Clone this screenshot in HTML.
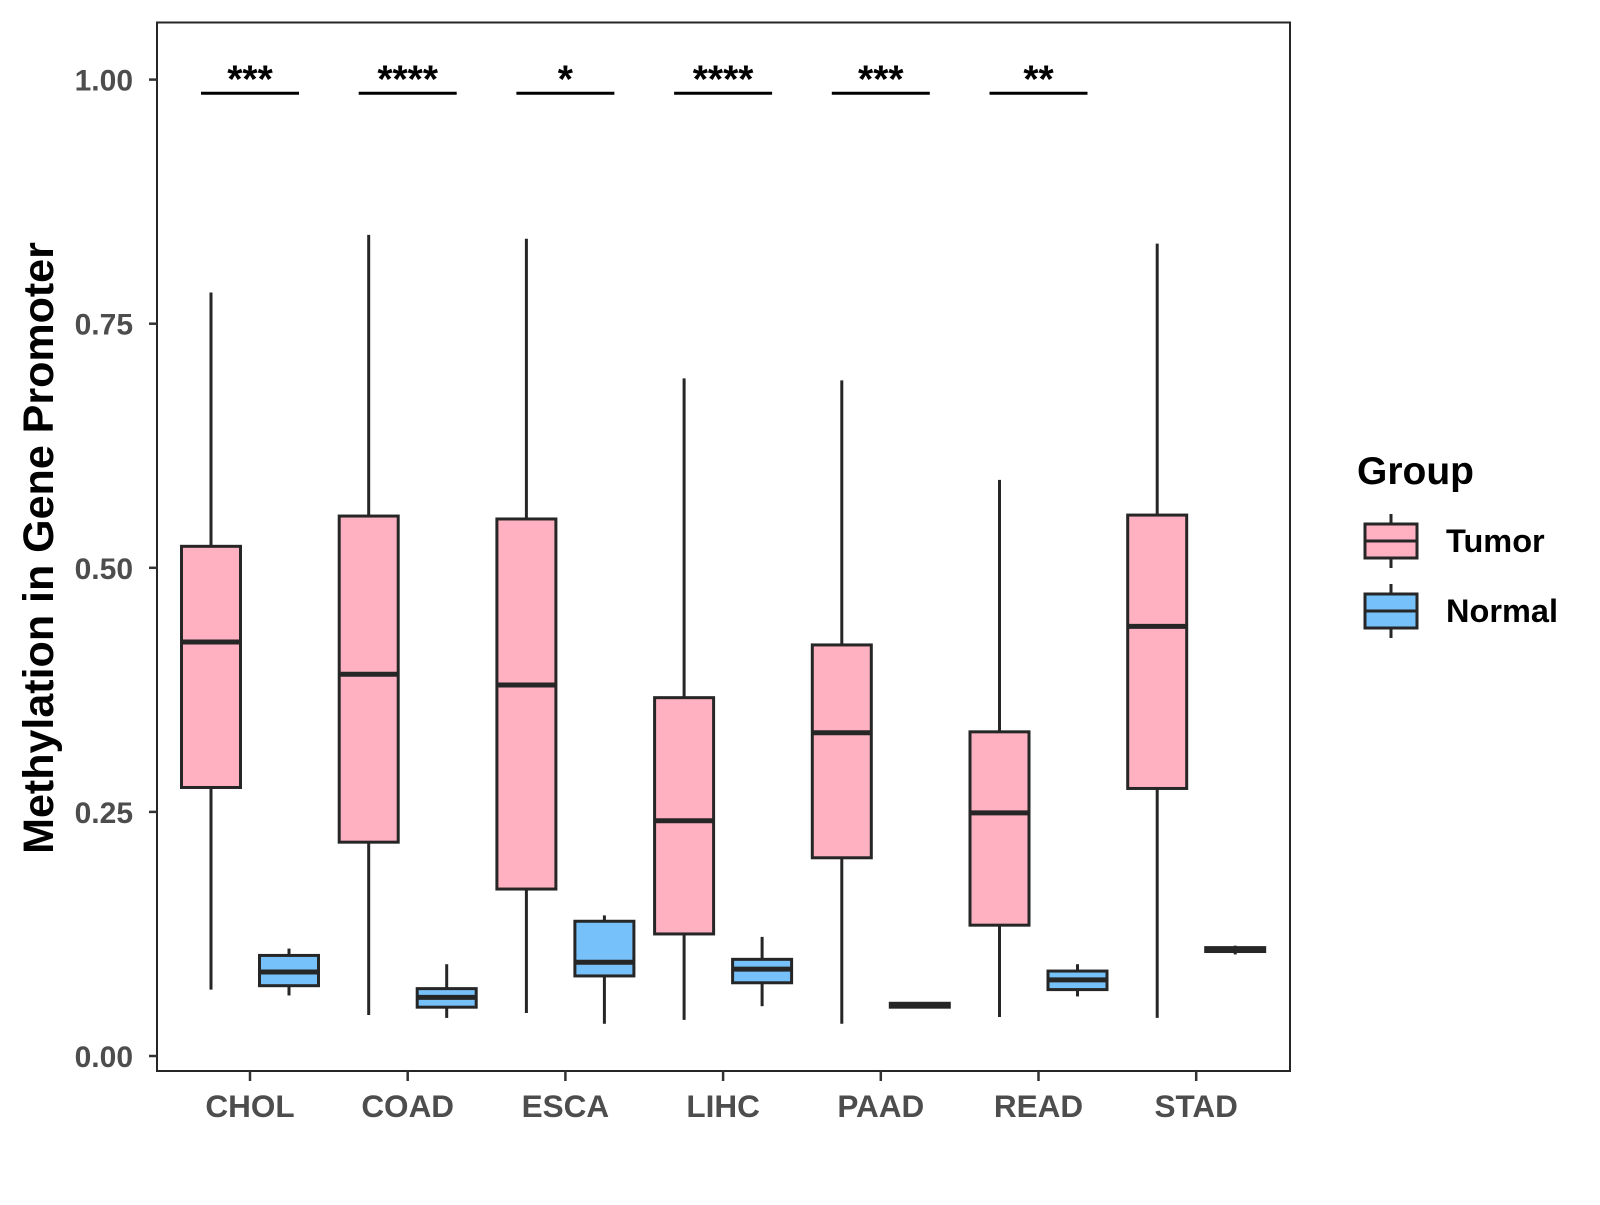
<!DOCTYPE html>
<html><head><meta charset="utf-8"><style>body{margin:0;background:#fff}svg text{font-family:"Liberation Sans",Arial,sans-serif;font-weight:bold}</style></head>
<body>
<svg id="chart" width="1600" height="1200" viewBox="0 0 1600 1200" xmlns="http://www.w3.org/2000/svg"></svg>
<script>
const categories=["CHOL","COAD","ESCA","LIHC","PAAD","READ","STAD"];
// [lowWhisker, Q1, median, Q3, highWhisker]
const tumorStats=[[0.068,0.275,0.424,0.522,0.782],[0.042,0.219,0.391,0.553,0.841],[0.044,0.171,0.380,0.550,0.837],[0.037,0.125,0.241,0.367,0.694],[0.033,0.203,0.331,0.421,0.692],[0.040,0.134,0.249,0.332,0.590],[0.039,0.274,0.440,0.554,0.832]];
const normalStats=[[0.062,0.072,0.086,0.103,0.110],[0.039,0.050,0.060,0.069,0.094],[0.033,0.082,0.096,0.138,0.144],[0.051,0.075,0.089,0.099,0.122],[0.049,0.050,0.052,0.054,0.055],[0.061,0.068,0.078,0.087,0.094],[0.104,0.107,0.109,0.111,0.113]];
const sigLabels=["***","****","*","****","***","**",""];
const sigLevel=0.986;
const yTicks=[0,0.25,0.5,0.75,1.0];
const yTickLabels=["0.00","0.25","0.50","0.75","1.00"];

const svg=document.getElementById('chart');
const NS="http://www.w3.org/2000/svg";
const P={l:157,r:1290,t:22.5,b:1071};
const y=v=>1056-v*976.4;
const x=i=>250+i*157.7;
const LC="#262626";
function mk(tag,at,parent){const e=document.createElementNS(NS,tag);for(const k in at)e.setAttribute(k,at[k]);(parent||svg).appendChild(e);return e;}

const panel=mk('rect',{x:P.l,y:P.t,width:P.r-P.l,height:P.b-P.t,fill:'#fff',stroke:'#262626','stroke-width':2});



yTicks.forEach((t,i)=>{
  const tk=mk('line',{x1:P.l-8,x2:P.l,y1:y(t),y2:y(t),stroke:'#333','stroke-width':2.5});
  
  
  const tl=mk('text',{x:P.l-24,y:y(t)+11,'text-anchor':'end','font-size':30,fill:'#4d4d4d'});
  tl.textContent=yTickLabels[i];
  
  
});
categories.forEach((c,i)=>{
  const tk=mk('line',{x1:x(i),x2:x(i),y1:P.b,y2:P.b+10,stroke:'#333','stroke-width':2.5});
  
  
  const tl=mk('text',{x:x(i),y:P.b+46,'text-anchor':'middle','font-size':31.5,fill:'#4d4d4d'});
  tl.textContent=c;
  
  
});

function box(cx,s,fill,name){
  const g=mk('g',{});
  
  
  const w=59;
  mk('line',{x1:cx,x2:cx,y1:y(s[0]),y2:y(s[1]),stroke:LC,'stroke-width':3},g);
  mk('line',{x1:cx,x2:cx,y1:y(s[3]),y2:y(s[4]),stroke:LC,'stroke-width':3},g);
  mk('rect',{x:cx-w/2,y:y(s[3]),width:w,height:Math.max(y(s[1])-y(s[3]),1),fill:fill,stroke:LC,'stroke-width':3},g);
  mk('line',{x1:cx-w/2,x2:cx+w/2,y1:y(s[2]),y2:y(s[2]),stroke:LC,'stroke-width':5},g);
}
categories.forEach((c,i)=>{
  box(x(i)-39,tumorStats[i],'#FFB1C1','tumor-box-'+c.toLowerCase());
  box(x(i)+39,normalStats[i],'#76C1F9','normal-box-'+c.toLowerCase());
  if(sigLabels[i]){
    const bl=mk('line',{x1:x(i)-49,x2:x(i)+49,y1:y(sigLevel),y2:y(sigLevel),stroke:'#000','stroke-width':3});
    
    
    const st=mk('text',{x:x(i),y:y(sigLevel)-1,'text-anchor':'middle','font-size':39,fill:'#000'});
    st.textContent=sigLabels[i];
    
    
  }
});

const yt=mk('text',{x:0,y:0,transform:'translate(53,548) rotate(-90)','text-anchor':'middle','font-size':43,fill:'#000'});
yt.textContent='Methylation in Gene Promoter';



const lt=mk('text',{x:1357,y:484,'font-size':39,fill:'#000'});
lt.textContent='Group';


[['Tumor','#FFB1C1',541],['Normal','#76C1F9',611]].forEach(([n,f,cy])=>{
  const g=mk('g',{});
  
  
  mk('line',{x1:1391,x2:1391,y1:cy-27,y2:cy+27,stroke:LC,'stroke-width':3},g);
  mk('rect',{x:1365,y:cy-17,width:52,height:34,fill:f,stroke:LC,'stroke-width':3},g);
  mk('line',{x1:1365,x2:1417,y1:cy,y2:cy,stroke:LC,'stroke-width':3},g);
  const t=mk('text',{x:1446,y:cy+11,'font-size':32.5,fill:'#000'},g);
  t.textContent=n;
});
</script>
</body></html>
